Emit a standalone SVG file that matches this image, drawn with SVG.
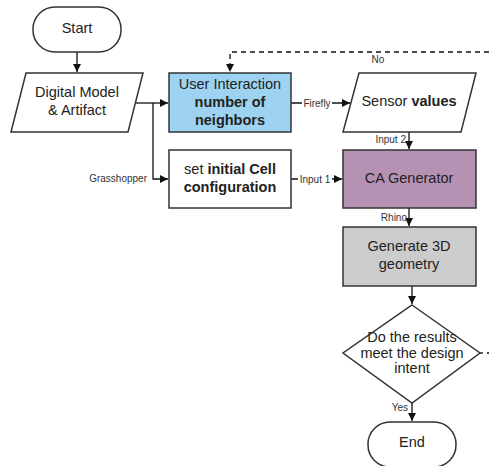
<svg xmlns="http://www.w3.org/2000/svg" width="489" height="466" viewBox="0 0 489 466">
  <style>
    .shape { stroke: #333; stroke-width: 1.5; }
    .line { fill: none; stroke: #111; stroke-width: 1.3; }
    .dash { fill: none; stroke: #111; stroke-width: 1.3; stroke-dasharray: 5 4; }
    .t { font-family: "Liberation Sans", Arial, sans-serif; font-size: 14.5px; fill: #222; text-anchor: middle; }
    .b { font-weight: bold; }
    .lbl { font-family: "Liberation Sans", Arial, sans-serif; font-size: 10px; fill: #333; }
    .bg { fill: #ffffff; }
  </style>
  <defs>
    <marker id="arrow" viewBox="0 0 10 10" refX="10" refY="5" markerWidth="8" markerHeight="8" markerUnits="userSpaceOnUse" orient="auto">
      <path d="M0,0 L10,5 L0,10 z" fill="#111"/>
    </marker>
  </defs>
  <rect width="489" height="466" fill="#ffffff"/>

  <g id="connectors">
    <!-- Start to model -->
    <path class="line" d="M77,52 L77,72" marker-end="url(#arrow)"/>
    <!-- model to user interaction -->
    <path class="line" d="M136,103 L168,103" marker-end="url(#arrow)"/>
    <!-- model branch to cell configuration -->
    <path class="line" d="M153,103 L153,179 L168,179" marker-end="url(#arrow)"/>
    <text class="lbl" x="147" y="182" text-anchor="end">Grasshopper</text>
    <!-- user interaction to sensor -->
    <path class="line" d="M291,103 L350,103" marker-end="url(#arrow)"/>
    <rect class="bg" x="302" y="96" width="30" height="13"/>
    <text class="lbl" x="317" y="107" text-anchor="middle">Firefly</text>
    <!-- sensor to CA -->
    <path class="line" d="M409,132 L409,149" marker-end="url(#arrow)"/>
    <text class="lbl" x="406" y="143" text-anchor="end">Input 2</text>
    <!-- cell configuration to CA -->
    <path class="line" d="M291,179 L342,179" marker-end="url(#arrow)"/>
    <rect class="bg" x="298" y="172" width="34" height="13"/>
    <text class="lbl" x="315" y="183" text-anchor="middle">Input 1</text>
    <!-- CA to geometry -->
    <path class="line" d="M409,208 L409,226" marker-end="url(#arrow)"/>
    <text class="lbl" x="407" y="221" text-anchor="end">Rhino</text>
    <!-- geometry to decision -->
    <path class="line" d="M412,286 L412,304" marker-end="url(#arrow)"/>
    <!-- decision to end -->
    <path class="line" d="M412,403 L412,421" marker-end="url(#arrow)"/>
    <text class="lbl" x="408" y="411" text-anchor="end">Yes</text>
    <!-- loop back when the intent is not met -->
    <path class="dash" d="M489,52 L230,52 L230,72" marker-end="url(#arrow)"/>
    <text class="lbl" x="378" y="63" text-anchor="middle">No</text>
    <path class="line" d="M480,353 L483,353"/>
    <path class="line" d="M487,353 L489,353"/>
  </g>

  <g id="start">
    <rect class="shape" x="33" y="7" width="88" height="45" rx="22" ry="22" fill="#ffffff"/>
    <text class="t" x="77" y="33">Start</text>
  </g>

  <g id="digital-model">
    <polygon class="shape" points="26,73 143,73 128,132 11,132" fill="#ffffff"/>
    <text class="t" x="77" y="97">Digital Model</text>
    <text class="t" x="77" y="115">&amp; Artifact</text>
  </g>

  <g id="user-interaction">
    <rect class="shape" x="169" y="73" width="122" height="59" fill="#9dd2f1"/>
    <text class="t" x="230" y="89">User Interaction</text>
    <text class="t b" x="230" y="107">number of</text>
    <text class="t b" x="230" y="125">neighbors</text>
  </g>

  <g id="sensor-values">
    <polygon class="shape" points="359,73 476,73 461,132 343,132" fill="#ffffff"/>
    <text class="t" x="409" y="106">Sensor <tspan class="b">values</tspan></text>
  </g>

  <g id="cell-configuration">
    <rect class="shape" x="169" y="150" width="122" height="58" fill="#ffffff"/>
    <text class="t" x="230" y="174">set <tspan class="b">initial Cell</tspan></text>
    <text class="t b" x="230" y="192">configuration</text>
  </g>

  <g id="ca-generator">
    <rect class="shape" x="343" y="150" width="133" height="58" fill="#b592b4"/>
    <text class="t" x="409" y="183">CA Generator</text>
  </g>

  <g id="generate-geometry">
    <rect class="shape" x="343" y="227" width="133" height="59" fill="#cccccc"/>
    <text class="t" x="409" y="251">Generate 3D</text>
    <text class="t" x="409" y="269">geometry</text>
  </g>

  <g id="decision">
    <polygon class="shape" points="412,305 480,353 412,403 343,353" fill="#ffffff"/>
    <text class="t" x="412" y="342">Do the results</text>
    <text class="t" x="412" y="358">meet the design</text>
    <text class="t" x="412" y="373">intent</text>
  </g>

  <g id="end">
    <rect class="shape" x="368" y="422" width="88" height="45" rx="22" ry="22" fill="#ffffff"/>
    <text class="t" x="412" y="447">End</text>
  </g>
</svg>
